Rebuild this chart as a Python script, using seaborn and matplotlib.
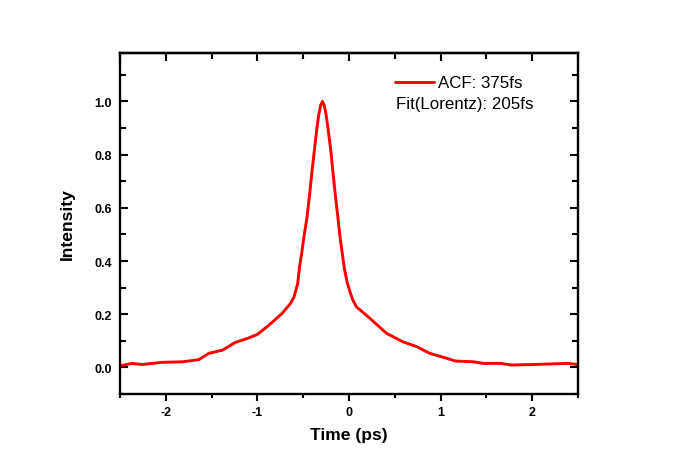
import numpy as np
import pandas as pd
import matplotlib
matplotlib.use('Agg')
import matplotlib.pyplot as plt
import seaborn as sns
from matplotlib.ticker import MultipleLocator, FormatStrFormatter

# autocorrelation trace
time_ps = [-2.50, -2.37, -2.26, -2.04, -1.82, -1.64, -1.53, -1.38, -1.24, -1.10,
           -1.00, -0.87, -0.73, -0.64, -0.60, -0.56, -0.54, -0.52, -0.49, -0.46,
           -0.43, -0.40, -0.37, -0.35, -0.33, -0.31, -0.29, -0.27, -0.25, -0.23,
           -0.20, -0.18, -0.15, -0.12, -0.10, -0.07, -0.05, -0.02, 0.01, 0.04,
           0.08, 0.23, 0.41, 0.59, 0.74, 0.88, 1.07, 1.16, 1.36, 1.47,
           1.66, 1.77, 2.02, 2.39, 2.50]
intensity = [0.006, 0.015, 0.011, 0.019, 0.021, 0.029, 0.053, 0.065, 0.094, 0.110,
             0.124, 0.160, 0.203, 0.240, 0.265, 0.315, 0.378, 0.420, 0.496, 0.560,
             0.650, 0.750, 0.840, 0.900, 0.950, 0.985, 1.000, 0.985, 0.950, 0.900,
             0.820, 0.750, 0.650, 0.560, 0.496, 0.420, 0.370, 0.320, 0.285, 0.255,
             0.228, 0.184, 0.128, 0.096, 0.078, 0.053, 0.034, 0.024, 0.021, 0.015,
             0.015, 0.009, 0.011, 0.015, 0.011]

legend_label = 'ACF: 375fs'
fit_label = 'Fit(Lorentz): 205fs'

df = pd.DataFrame({'Time': time_ps, 'Intensity': intensity})

sns.set_theme(style='ticks')
plt.rcParams['font.family'] = ['Liberation Sans', 'DejaVu Sans']
plt.rcParams['axes.unicode_minus'] = False
plt.rcParams['text.color'] = 'black'
plt.rcParams['axes.labelcolor'] = 'black'
plt.rcParams['xtick.color'] = 'black'
plt.rcParams['ytick.color'] = 'black'

fig = plt.figure(figsize=(6.74, 4.77), dpi=100)
ax = fig.add_axes([120 / 674, 1 - 395 / 477, 458 / 674, 341 / 477])

sns.lineplot(data=df, x='Time', y='Intensity', ax=ax, color='#ff0000',
             linewidth=2.1, sort=False, estimator=None, label=legend_label)

ax.set_xlim(-2.5, 2.5)
ax.set_ylim(-0.1, 1.182)
ax.xaxis.set_major_locator(MultipleLocator(1))
ax.xaxis.set_minor_locator(MultipleLocator(0.5))
ax.yaxis.set_major_locator(MultipleLocator(0.2))
ax.yaxis.set_minor_locator(MultipleLocator(0.1))
ax.yaxis.set_major_formatter(FormatStrFormatter('%.1f'))

for s in ax.spines.values():
    s.set_linewidth(1.7)
    s.set_color('black')
    s.set_visible(True)

ax.tick_params(axis='y', which='both', direction='in', left=True, right=True,
               width=1.5, labelsize=9, pad=6)
ax.tick_params(axis='y', which='major', length=6)
ax.tick_params(axis='y', which='minor', length=4)
ax.tick_params(axis='x', which='both', direction='out', bottom=True, top=False,
               width=1.5, labelsize=9, pad=4)
ax.tick_params(axis='x', which='major', length=5)
ax.tick_params(axis='x', which='minor', length=3)
for lab in ax.get_xticklabels() + ax.get_yticklabels():
    lab.set_fontweight('bold')

top = ax.secondary_xaxis('top')
top.xaxis.set_major_locator(MultipleLocator(1))
top.xaxis.set_minor_locator(MultipleLocator(0.5))
top.tick_params(which='both', direction='in', width=1.5, labeltop=False)
top.tick_params(which='major', length=6)
top.tick_params(which='minor', length=4)
top.spines['top'].set_linewidth(1.7)

ax.set_xlabel('Time (ps)', fontsize=12.6, fontweight='bold', labelpad=6)
ax.set_ylabel('Intensity', fontsize=12.6, fontweight='bold', labelpad=14)

ax.legend(loc='center left', bbox_to_anchor=(395 / 674, 1 - 84 / 477),
          bbox_transform=fig.transFigure, frameon=False, fontsize=12.2,
          handlelength=2.3, handletextpad=0.25, borderpad=0, borderaxespad=0)
fig.text(396 / 674, 1 - 105 / 477, fit_label, fontsize=12.2, va='center', ha='left')

fig.savefig('out.png', dpi=100)
